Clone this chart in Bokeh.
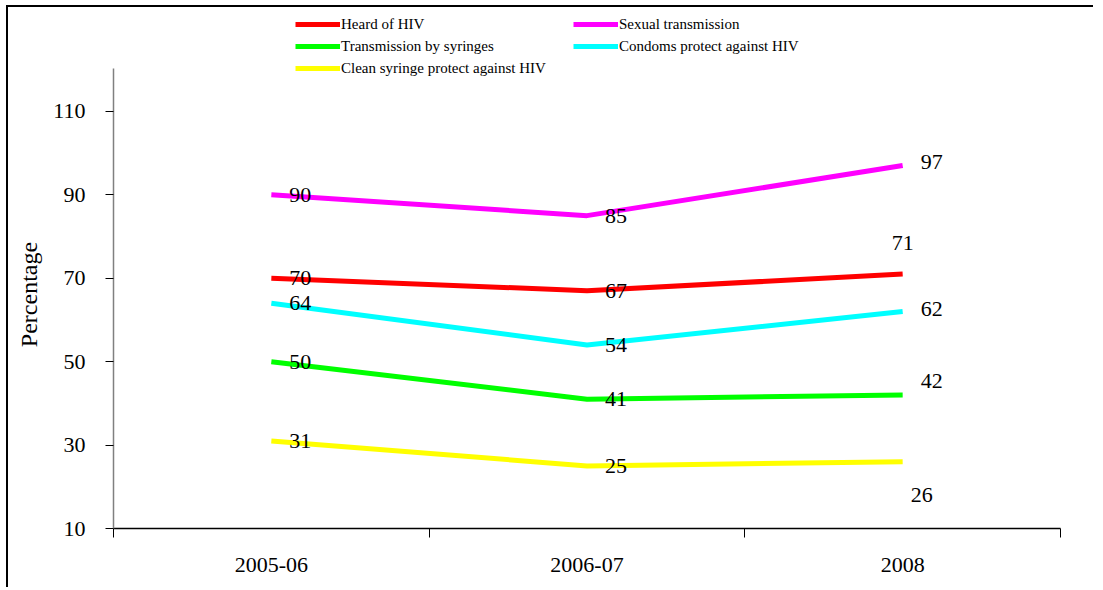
from bokeh.plotting import figure
from bokeh.models import (ColumnDataSource, FixedTicker, Range1d, Legend, LegendItem, LabelSet)
from bokeh.embed import file_html
from bokeh.resources import INLINE

categories = ["2005-06", "2006-07", "2008"]
heard_of_hiv = [70, 67, 71]
sexual_transmission = [90, 85, 97]
transmission_by_syringes = [50, 41, 42]
condoms_protect = [64, 54, 62]
clean_syringe_protect = [31, 25, 26]
y_ticks = [10, 30, 50, 70, 90, 110]

series = [
    ("Heard of HIV", heard_of_hiv, "#FF0000"),
    ("Sexual transmission", sexual_transmission, "#FF00FF"),
    ("Transmission by syringes", transmission_by_syringes, "#00FF00"),
    ("Condoms protect against HIV", condoms_protect, "#00FFFF"),
    ("Clean syringe protect against HIV", clean_syringe_protect, "#FFFF00"),
]
# label offsets (px) per series for each point: (dx, dy, align)
label_style = [
    [(18, 0, "left"), (18, 0, "left"), (0, 31, "center")],
    [(18, 0, "left"), (18, 0, "left"), (18, 4, "left")],
    [(18, 0, "left"), (18, 0, "left"), (18, 14, "left")],
    [(18, 0, "left"), (18, 0, "left"), (18, 3, "left")],
    [(18, 0, "left"), (18, 0, "left"), (8, -33, "left")],
]

FONT = "Liberation Serif"

p = figure(width=1087, height=582, output_backend="svg", toolbar_location=None,
           x_range=Range1d(0, 3), y_range=Range1d(10, 133.7),
           min_border_left=105, min_border_right=35, min_border_top=5, min_border_bottom=61)
p.outline_line_color = None
p.xgrid.visible = False
p.ygrid.visible = False
p.background_fill_color = "white"
p.border_fill_color = "white"
p.styles = {"border-left": "2px solid #000", "border-top": "2px solid #000",
            "margin-left": "6px", "margin-top": "5px"}

xs = [i + 0.5 for i in range(len(categories))]

items = []
for (name, vals, color), styles in zip(series, label_style):
    r = p.line(xs, vals, line_color=color, line_width=5)
    items.append(LegendItem(label=name, renderers=[r]))
    for x, v, (dx, dy, al) in zip(xs, vals, styles):
        src = ColumnDataSource(dict(x=[x], y=[v], t=[str(v)]))
        ls = LabelSet(x="x", y="y", text="t", source=src, x_offset=dx, y_offset=dy,
                      text_align=al, text_baseline="middle", text_font=FONT,
                      text_font_size="22px", text_color="#000000")
        p.add_layout(ls)

# axes
xa = p.xaxis[0]
xa.ticker = FixedTicker(ticks=xs, minor_ticks=[0, 1, 2, 3])
xa.major_label_overrides = {x: c for x, c in zip(xs, categories)}
xa.major_tick_out = 0
xa.major_tick_in = 0
xa.minor_tick_out = 9
xa.minor_tick_in = 0
xa.minor_tick_line_color = "#000000"
xa.axis_line_color = "#000000"
xa.axis_line_width = 1.5
xa.major_label_text_font = FONT
xa.major_label_text_font_size = "22px"
xa.major_label_text_color = "#000000"
xa.major_label_standoff = 20

ya = p.yaxis[0]
ya.ticker = FixedTicker(ticks=y_ticks, minor_ticks=[])
ya.bounds = (10, 120.3)
ya.major_tick_out = 8
ya.major_tick_in = 0
ya.major_tick_line_color = "#000000"
ya.axis_line_color = "#808080"
ya.axis_line_width = 1.5
ya.major_label_text_font = FONT
ya.major_label_text_font_size = "22px"
ya.major_label_text_color = "#000000"
ya.major_label_standoff = 20
# trailing no-break spaces shift the centred label down to the middle of the drawn axis
ya.axis_label = "Percentage" + "\u00a0" * 8
ya.axis_label_text_font = FONT
ya.axis_label_text_font_size = "24px"
ya.axis_label_text_font_style = "normal"
ya.axis_label_text_color = "#000000"
ya.axis_label_standoff = 8

legend = Legend(items=items, ncols=2, location=(182, 449), orientation="horizontal",
                padding=0, margin=0, spacing=0, label_height=22, glyph_height=22,
                glyph_width=45, label_width=232, label_standoff=1,
                label_text_font=FONT, label_text_font_size="15px",
                label_text_color="#000000",
                border_line_color=None, background_fill_alpha=0)
p.add_layout(legend, "center")

open("out.html", "w").write(file_html(p, INLINE))
